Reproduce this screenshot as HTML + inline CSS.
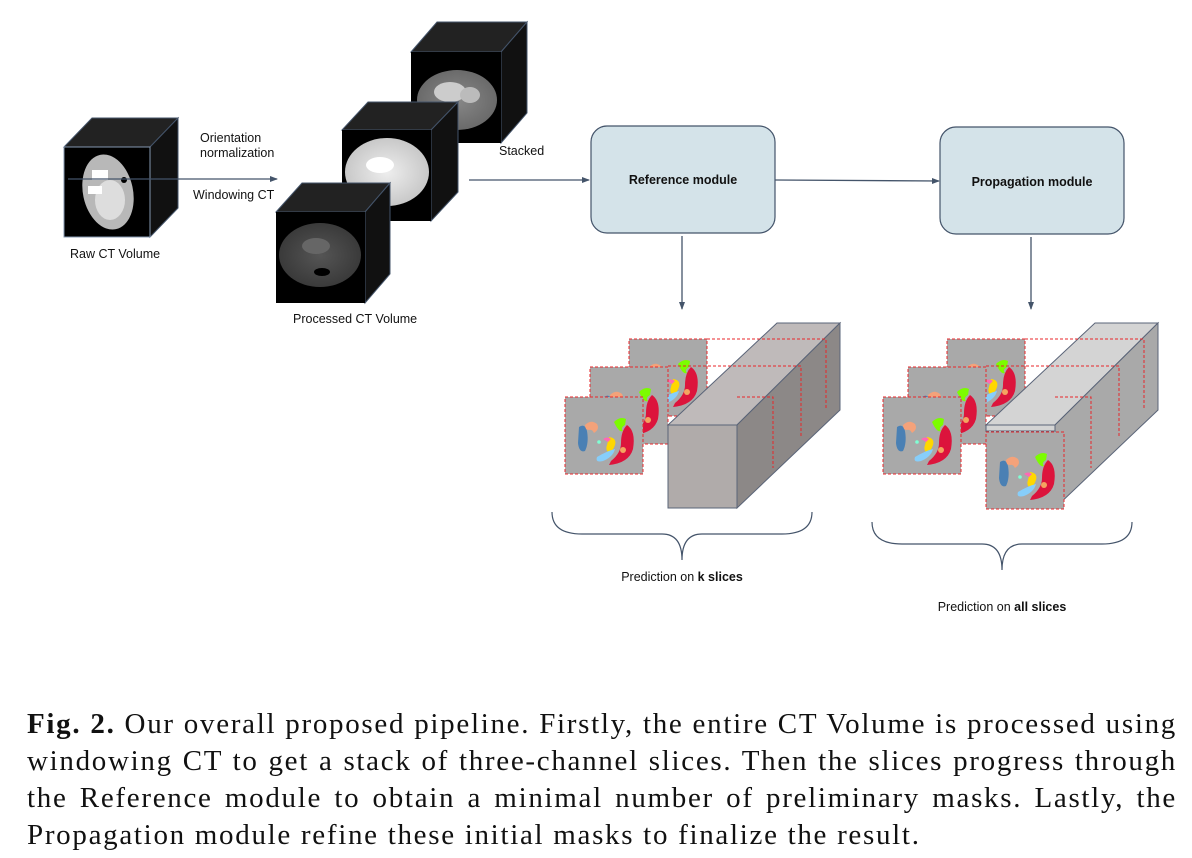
<!DOCTYPE html>
<html><head><meta charset="utf-8"><style>
body{margin:0;background:#fff;width:1192px;height:858px;overflow:hidden;position:relative}
svg{position:absolute;left:0;top:0}
.t{font-family:"Liberation Sans",sans-serif;font-size:12.5px;fill:#111}
.cap{position:absolute;left:27px;top:706px;width:1150px;font-family:"Liberation Serif",serif;font-size:29px;letter-spacing:1.7px;line-height:37px;color:#111}
.cap div{text-align:justify;text-align-last:justify;white-space:nowrap}
.cap div.last{text-align-last:left}
</style></head><body>
<svg width="1192" height="700" viewBox="0 0 1192 700">
<defs>
<marker id="ar" markerWidth="8" markerHeight="8" refX="7" refY="4" orient="auto" markerUnits="userSpaceOnUse"><path d="M0,1 L8,4 L0,7z" fill="#44546a"/></marker>
<radialGradient id="ctw"><stop offset="0" stop-color="#eee"/><stop offset="1" stop-color="#c8c8c8"/></radialGradient>
<radialGradient id="ctd"><stop offset="0" stop-color="#555"/><stop offset="1" stop-color="#3a3a3a"/></radialGradient>
<radialGradient id="ctm"><stop offset="0" stop-color="#888"/><stop offset="1" stop-color="#6a6a6a"/></radialGradient>
<g id="mask">
<rect x="0" y="0" width="78" height="77" fill="#a9a9a9" stroke="#e8262a" stroke-width="1" stroke-dasharray="3,2"/>
<path d="M14,30 q6,-4 8,4 q2,12 -2,20 q-6,2 -7,-8z" fill="#4a80b4"/>
<path d="M20,28 q6,-6 12,-1 q3,5 -3,9 q-2,-4 -5,-3 q-4,0 -4,-5z" fill="#f4a27a"/>
<path d="M49,25 q6,-6 12,-3 l-1,6 q-5,3 -2,6 q-4,2 -9,-9z" fill="#7cfc00"/>
<path d="M62,28 q9,6 6,24 q-4,14 -24,16 l2,-4 q10,-8 10,-18 q0,-12 6,-18z" fill="#dc143c"/>
<path d="M44,40 q8,1 6,8 q-2,6 -6,8 q-4,-3 -2,-8z" fill="#ffd700"/>
<path d="M38,42 q4,-3 8,0 l-3,3z" fill="#ff69b4"/>
<circle cx="34" cy="45" r="1.8" fill="#7fffd4"/>
<path d="M32,60 q10,-6 18,-8 q-2,8 -12,12 q-8,2 -6,-4z" fill="#87cefa"/>
<circle cx="58" cy="53" r="3" fill="#f4a460"/>
</g>
</defs>

<polygon points="64,147 92,118 178,118 150,147" fill="#222" stroke="#44546a"/>
<polygon points="150,147 178,118 178,208 150,237" fill="#111" stroke="#44546a"/>
<rect x="64" y="147" width="86" height="90" fill="#000" stroke="#8497b0"/>
<ellipse cx="108" cy="192" rx="25" ry="38" fill="#b8b8b8" transform="rotate(-12 108 192)"/>
<ellipse cx="110" cy="200" rx="15" ry="20" fill="#ddd"/>
<rect x="92" y="170" width="16" height="10" fill="#fff"/><rect x="88" y="186" width="14" height="8" fill="#fff"/>
<circle cx="124" cy="180" r="3" fill="#000"/>
<text class="t" x="70" y="258" font-size="13.5">Raw CT Volume</text>

<line x1="68" y1="179" x2="277" y2="179" stroke="#44546a" stroke-width="1.3" marker-end="url(#ar)"/>
<text class="t" x="200" y="142" font-size="11">Orientation</text>
<text class="t" x="200" y="157" font-size="11">normalization</text>
<text class="t" x="193" y="199" font-size="11">Windowing CT</text>

<polygon points="411,52 437,22 527,22 501,52" fill="#222" stroke="#44546a"/>
<polygon points="501,52 527,22 527,113 501,143" fill="#111" stroke="#44546a"/>
<rect x="411" y="52" width="90" height="91" fill="#000"/>
<ellipse cx="457" cy="100" rx="40" ry="30" fill="url(#ctm)"/>
<ellipse cx="450" cy="92" rx="16" ry="10" fill="#ccc"/><ellipse cx="470" cy="95" rx="10" ry="8" fill="#bbb"/>
<polygon points="342,130 368,102 458,102 431,130" fill="#222" stroke="#44546a"/>
<polygon points="431,130 458,102 458,192 431,221" fill="#111" stroke="#44546a"/>
<rect x="342" y="130" width="89" height="91" fill="#000"/>
<ellipse cx="387" cy="172" rx="42" ry="34" fill="url(#ctw)"/>
<ellipse cx="380" cy="165" rx="14" ry="8" fill="#fff"/>
<polygon points="276,212 302,183 390,183 365,212" fill="#222" stroke="#44546a"/>
<polygon points="365,212 390,183 390,274 365,303" fill="#111" stroke="#44546a"/>
<rect x="276" y="212" width="89" height="91" fill="#000"/>
<ellipse cx="320" cy="255" rx="41" ry="32" fill="url(#ctd)"/>
<ellipse cx="316" cy="246" rx="14" ry="8" fill="#666"/><ellipse cx="322" cy="272" rx="8" ry="4" fill="#000"/>
<text class="t" x="293" y="323" font-size="13.5">Processed CT Volume</text>
<text class="t" x="499" y="155" font-size="11">Stacked</text>

<line x1="469" y1="180" x2="589" y2="180" stroke="#44546a" stroke-width="1.3" marker-end="url(#ar)"/>
<rect x="591" y="126" width="184" height="107" rx="16" fill="#d4e3e9" stroke="#44546a" stroke-width="1.2"/>
<text class="t" x="683" y="184" text-anchor="middle" font-weight="bold" font-size="13">Reference module</text>
<line x1="775" y1="180" x2="939" y2="181" stroke="#44546a" stroke-width="1.3" marker-end="url(#ar)"/>
<rect x="940" y="127" width="184" height="107" rx="16" fill="#d4e3e9" stroke="#44546a" stroke-width="1.2"/>
<text class="t" x="1032" y="186" text-anchor="middle" font-weight="bold" font-size="13">Propagation module</text>
<line x1="682" y1="236" x2="682" y2="309" stroke="#44546a" stroke-width="1.3" marker-end="url(#ar)"/>
<line x1="1031" y1="237" x2="1031" y2="309" stroke="#44546a" stroke-width="1.3" marker-end="url(#ar)"/>

<use href="#mask" x="629" y="339"/>
<use href="#mask" x="590" y="367"/>
<use href="#mask" x="565" y="397"/>
<polygon points="668,425 777,323 840,323 737,425" fill="#bfbaba" stroke="#5a6478"/>
<polygon points="737,425 840,323 840,410 737,508" fill="#8c8887" stroke="#5a6478"/>
<rect x="668" y="425" width="69" height="83" fill="#b0abaa" stroke="#5a6478"/>
<g fill="none" stroke="#e8262a" stroke-dasharray="3,2">
<polyline points="707,339 826,339 826,410"/>
<polyline points="668,366 801,366 801,438"/>
<polyline points="737,397 773,397 773,468"/>
</g>
<use href="#mask" x="947" y="339"/>
<use href="#mask" x="908" y="367"/>
<use href="#mask" x="883" y="397"/>
<polygon points="986,425 1095,323 1158,323 1055,425" fill="#d4d4d4" stroke="#5a6478"/>
<polygon points="1055,425 1158,323 1158,410 1055,508" fill="#a9a9a9" stroke="#5a6478"/>
<rect x="986" y="425" width="69" height="6" fill="#d4d4d4" stroke="#5a6478"/>
<use href="#mask" x="986" y="432"/>
<g fill="none" stroke="#e8262a" stroke-dasharray="3,2">
<polyline points="1025,339 1144,339 1144,410"/>
<polyline points="986,366 1119,366 1119,438"/>
<polyline points="1055,397 1091,397 1091,468"/>
</g>

<path d="M552,512 q0,22 30,22 l80,0 q20,0 20,26 q0,-26 20,-26 l80,0 q30,0 30,-22" fill="none" stroke="#44546a" stroke-width="1.2"/>
<path d="M872,522 q0,22 30,22 l80,0 q20,0 20,26 q0,-26 20,-26 l80,0 q30,0 30,-22" fill="none" stroke="#44546a" stroke-width="1.2"/>
<text class="t" x="682" y="581" text-anchor="middle" font-size="12.5">Prediction on <tspan font-weight="bold">k slices</tspan></text>
<text class="t" x="1002" y="611" text-anchor="middle" font-size="12.5">Prediction on <tspan font-weight="bold">all slices</tspan></text>
</svg>
<div class="cap">
<div><b>Fig. 2.</b> Our overall proposed pipeline. Firstly, the entire CT Volume is processed using</div>
<div>windowing CT to get a stack of three-channel slices. Then the slices progress through</div>
<div>the Reference module to obtain a minimal number of preliminary masks. Lastly, the</div>
<div class="last">Propagation module refine these initial masks to finalize the result.</div>
</div>
</body></html>
